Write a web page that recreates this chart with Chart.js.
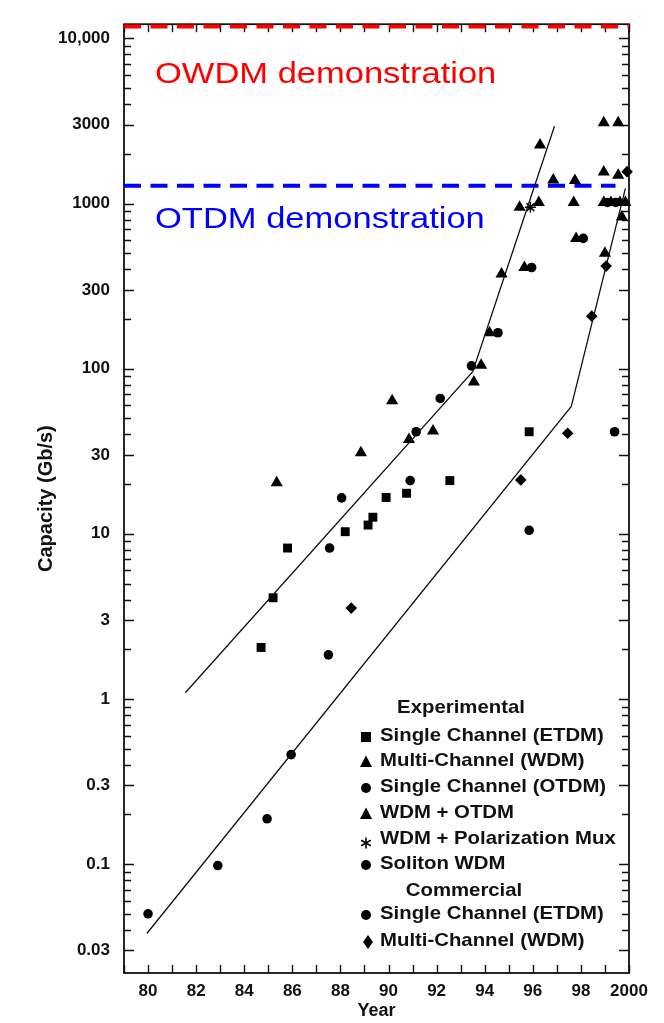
<!DOCTYPE html>
<html>
<head>
<meta charset="UTF-8">
<title>Capacity (Gb/s) vs Year</title>
<script src="https://cdn.jsdelivr.net/npm/chart.js@4.4.0/dist/chart.umd.min.js"></script>
<style>
  body { margin: 0; background: #fff; }
  canvas { display: block; }
</style>
</head>
<body>
<canvas id="capChart" width="664" height="1023"></canvas>
<script>
// Experimental - single channel ETDM (squares)
const etdmYear = [84.7, 85.2, 85.8, 88.2, 89.15, 89.35, 89.9, 90.75, 92.55, 95.85];
const etdmCap  = [2.05, 4.1, 8.2, 10.3, 11.3, 12.6, 16.6, 17.6, 21, 41.5];

// Experimental - multi-channel WDM (triangles)
const wdmYear = [85.35, 88.85, 90.15, 90.85, 91.85, 93.55, 93.85, 94.2, 94.7, 95.65, 95.45, 96.25, 96.3,
                 96.85, 97.75, 97.7, 97.8, 98.95, 99.55, 98.95, 99.25, 99.62, 99.85, 99.7, 99.0];
const wdmCap  = [20.4, 31, 64, 37.3, 42, 83, 105, 165, 375, 410, 950, 1015, 2260,
                 1390, 1380, 1015, 615, 1555, 1485, 1015, 1015, 1015, 1015, 830, 500];

// Experimental - WDM + OTDM (triangles)
const wdmOtdmYear = [98.95, 99.55];
const wdmOtdmCap  = [3080, 3080];

// Experimental - single channel OTDM (circles)
const otdmYear = [87.55, 88.05, 90.9, 91.15, 92.15, 93.45, 94.55, 95.95, 99.1, 99.45];
const otdmCap  = [8.2, 16.5, 21, 41.5, 66, 104, 165, 410, 1015, 1015];

// Experimental - WDM + polarization mux (star)
const polYear = [95.9];
const polCap  = [950];

// Experimental - soliton WDM (circles)
const solitonYear = [98.1];
const solitonCap  = [615];

// Commercial - single channel ETDM (circles)
const comEtdmYear = [80.0, 82.9, 84.95, 85.95, 87.5, 95.85, 99.4];
const comEtdmCap  = [0.050, 0.098, 0.188, 0.46, 1.85, 10.5, 41.5];

// Commercial - multi-channel WDM (diamonds)
const comWdmYear = [88.45, 95.5, 97.45, 98.45, 99.05, 99.92];
const comWdmCap  = [3.55, 21.2, 40.6, 208, 418, 1560];

// trend lines
const expTrendYear = [81.55, 93.5, 96.9];
const expTrendCap  = [1.09, 96, 2940];
const comTrendYear = [79.95, 97.6, 99.85];
const comTrendCap  = [0.038, 59, 1235];

// demonstration levels
const demoYearOwdm = [79, 100];
const demoYearOtdm = [79, 99.44];
const owdmLevel = 11800;
const otdmLevel = 1280;

// axes
const yTickLabels = [0.03, 0.1, 0.3, 1, 3, 10, 30, 100, 300, 1000, 3000, 10000];
const xTickLabels = [80, 82, 84, 86, 88, 90, 92, 94, 96, 98, 100];
const yMin = 0.0219, yMax = 12190;

const FONT = '"Liberation Sans", Arial, Helvetica, sans-serif';

function pts(xs, ys) {
    return xs.map(function (x, i) { return { x: x, y: ys[i] }; });
}

function marks(data, style, r) {
    return {
        data: data, pointStyle: style, pointRadius: r, pointHoverRadius: r,
        backgroundColor: '#000', borderColor: '#000', borderWidth: 0, clip: false
    };
}

function trend(data, color, width, dash) {
    return {
        type: 'line', data: data, showLine: true, pointRadius: 0,
        borderColor: color, borderWidth: width, borderDash: dash || [],
        borderCapStyle: 'butt', fill: false, clip: false, tension: 0
    };
}

// minor log ticks, 1..9 per decade
const yTicks = [];
for (let k = -2; k <= 4; k++) {
    for (let m = 1; m <= 9; m++) {
        const v = m * Math.pow(10, k);
        if (v >= yMin && v <= yMax) yTicks.push(v);
    }
}

function yLabel(v) {
    for (const l of yTickLabels) {
        if (Math.abs(Math.log10(v) - Math.log10(l)) < 1e-6) {
            return l >= 10000 ? l.toLocaleString('en-US') : String(l);
        }
    }
    return '';
}

// inward ticks on all four sides + frame
const frameTicks = {
    id: 'frameTicks',
    beforeDatasetsDraw(chart) {
        const ctx = chart.ctx, a = chart.chartArea;
        const xs = chart.scales.x, ys = chart.scales.y;
        ctx.save();
        ctx.strokeStyle = '#111';
        ctx.lineWidth = 1.8;
        ctx.strokeRect(a.left, a.top, a.right - a.left, a.bottom - a.top);
        ctx.lineWidth = 1.4;
        ctx.beginPath();
        ys.ticks.forEach(function (t) {
            const py = Math.round(ys.getPixelForValue(t.value)) + 0.5;
            const len = t.label ? 10 : 7;
            ctx.moveTo(a.left, py); ctx.lineTo(a.left + len, py);
            ctx.moveTo(a.right, py); ctx.lineTo(a.right - len, py);
        });
        xs.ticks.forEach(function (t) {
            const px = Math.round(xs.getPixelForValue(t.value)) + 0.5;
            ctx.moveTo(px, a.bottom); ctx.lineTo(px, a.bottom - 8);
            ctx.moveTo(px, a.top); ctx.lineTo(px, a.top + 8);
        });
        ctx.stroke();
        ctx.restore();
    }
};

function wideText(ctx, text, x, y, sx) {
    ctx.save();
    ctx.translate(x, y);
    ctx.scale(sx, 1);
    ctx.fillText(text, 0, 0);
    ctx.restore();
}

function drawSymbol(ctx, kind, x, y) {
    ctx.fillStyle = '#000';
    ctx.strokeStyle = '#000';
    ctx.beginPath();
    if (kind === 'square') {
        ctx.rect(x - 5, y - 5, 10, 10);
        ctx.fill();
    } else if (kind === 'triangle') {
        ctx.moveTo(x, y - 6.5); ctx.lineTo(x + 6, y + 5); ctx.lineTo(x - 6, y + 5);
        ctx.closePath(); ctx.fill();
    } else if (kind === 'circle') {
        ctx.arc(x, y, 5, 0, Math.PI * 2);
        ctx.fill();
    } else if (kind === 'diamond') {
        ctx.moveTo(x, y - 7); ctx.lineTo(x + 5, y); ctx.lineTo(x, y + 7); ctx.lineTo(x - 5, y);
        ctx.closePath(); ctx.fill();
    } else if (kind === 'star') {
        ctx.lineWidth = 1.6;
        for (let i = 0; i < 3; i++) {
            const ang = Math.PI / 2 + i * Math.PI / 3;
            ctx.moveTo(x + Math.cos(ang) * 5.5, y + 3 + Math.sin(ang) * 5.5);
            ctx.lineTo(x - Math.cos(ang) * 5.5, y + 3 - Math.sin(ang) * 5.5);
        }
        ctx.stroke();
    }
}

const legendRows = [
    { head: 'Experimental', y: 708, cx: 461 },
    { sym: 'square', text: 'Single Channel (ETDM)', y: 736 },
    { sym: 'triangle', text: 'Multi-Channel (WDM)', y: 761 },
    { sym: 'circle', text: 'Single Channel (OTDM)', y: 787 },
    { sym: 'triangle', text: 'WDM + OTDM', y: 813 },
    { sym: 'star', text: 'WDM + Polarization Mux', y: 839 },
    { sym: 'circle', text: 'Soliton WDM', y: 864 },
    { head: 'Commercial', y: 891, cx: 464 },
    { sym: 'circle', text: 'Single Channel (ETDM)', y: 914 },
    { sym: 'diamond', text: 'Multi-Channel (WDM)', y: 941 }
];

const notes = {
    id: 'notes',
    afterDraw(chart) {
        const ctx = chart.ctx;
        ctx.save();
        ctx.textBaseline = 'alphabetic';
        ctx.font = '30px ' + FONT;
        ctx.fillStyle = '#ff0000';
        wideText(ctx, 'OWDM demonstration', 155, 83, 1.15);
        ctx.fillStyle = '#0000ff';
        wideText(ctx, 'OTDM demonstration', 155, 228, 1.15);

        ctx.font = 'bold 18.5px ' + FONT;
        ctx.textBaseline = 'middle';
        legendRows.forEach(function (r) {
            ctx.fillStyle = '#111';
            if (r.head) {
                const w = ctx.measureText(r.head).width * 1.1;
                wideText(ctx, r.head, r.cx - w / 2, r.y, 1.1);
            } else {
                drawSymbol(ctx, r.sym, r.sym === 'diamond' ? 368 : 366, r.y + 1);
                ctx.fillStyle = '#111';
                wideText(ctx, r.text, 380, r.y, 1.1);
            }
        });
        ctx.restore();
    }
};

new Chart(document.getElementById('capChart'), {
    type: 'scatter',
    data: {
        datasets: [
            trend(pts(expTrendYear, expTrendCap), '#111', 1.3),
            trend(pts(comTrendYear, comTrendCap), '#111', 1.3),
            marks(pts(etdmYear, etdmCap), 'rect', 6.3),
            marks(pts(wdmYear, wdmCap), 'triangle', 7),
            marks(pts(wdmOtdmYear, wdmOtdmCap), 'triangle', 7),
            marks(pts(otdmYear, otdmCap), 'circle', 4.8),
            marks(pts(solitonYear, solitonCap), 'circle', 4.8),
            marks(pts(comEtdmYear, comEtdmCap), 'circle', 4.8),
            marks(pts(comWdmYear, comWdmCap), 'rectRot', 5.8),
            Object.assign(marks(pts(polYear, polCap), 'star', 5.5), { borderWidth: 1.5, backgroundColor: 'transparent' }),
            trend(pts(demoYearOwdm, [owdmLevel, owdmLevel]), '#ff0000', 4, [17, 9.5]),
            trend(pts(demoYearOtdm, [otdmLevel, otdmLevel]), '#0000ff', 4, [17, 9.5])
        ]
    },
    options: {
        responsive: false,
        devicePixelRatio: 1,
        animation: false,
        layout: { padding: { top: 24, right: 35, left: 0, bottom: 0 } },
        plugins: { legend: { display: false }, tooltip: { enabled: false } },
        scales: {
            x: {
                type: 'linear',
                min: 79,
                max: 100,
                grid: { display: false, drawTicks: false },
                border: { display: false },
                ticks: {
                    stepSize: 1,
                    autoSkip: false,
                    maxRotation: 0,
                    padding: 8,
                    color: '#111',
                    font: { family: FONT, size: 17, weight: 'bold' },
                    callback: function (v) {
                        const n = Math.round(v);
                        if (xTickLabels.indexOf(n) < 0) return '';
                        return n === 100 ? '2000' : String(n);
                    }
                },
                title: {
                    display: true,
                    text: 'Year',
                    color: '#111',
                    font: { family: FONT, size: 18, weight: 'bold' },
                    padding: { top: 0, bottom: 1 }
                },
                afterFit: function (s) { s.height = 50; }
            },
            y: {
                type: 'logarithmic',
                min: yMin,
                max: yMax,
                grid: { display: false, drawTicks: false },
                border: { display: false },
                afterBuildTicks: function (s) {
                    s.ticks = yTicks.map(function (v) { return { value: v }; });
                },
                ticks: {
                    autoSkip: false,
                    padding: 14,
                    color: '#111',
                    font: { family: FONT, size: 17, weight: 'bold' },
                    callback: function (v) { return yLabel(v); }
                },
                title: {
                    display: true,
                    text: 'Capacity (Gb/s)',
                    color: '#111',
                    font: { family: FONT, size: 20, weight: 'bold' },
                    padding: { top: 34, bottom: 0 }
                },
                afterFit: function (s) { s.width = 124; }
            }
        }
    },
    plugins: [frameTicks, notes]
});
</script>
</body>
</html>
